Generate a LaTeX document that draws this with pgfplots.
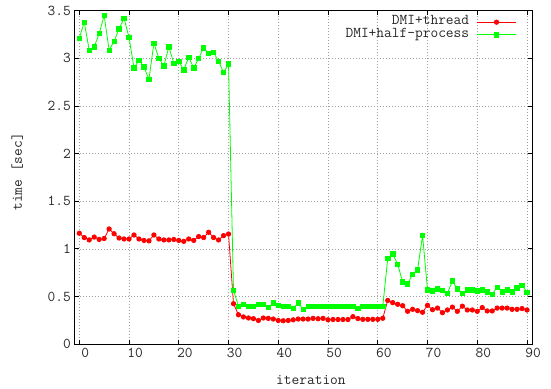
\documentclass[border=0pt]{standalone}
\usepackage{fontspec}
\usepackage{pgfplots}
\pgfplotsset{compat=1.18}
\newcommand\gfont{\fontsize{15}{17}\selectfont\ttfamily}
\definecolor{gred}{RGB}{255,0,0}
\definecolor{ggreen}{RGB}{0,255,0}
\begin{document}
\begin{tikzpicture}
\useasboundingbox (0,0) rectangle (551pt,388pt);
\begin{axis}[
  at={(74.3pt,43.7pt)}, anchor=south west,
  scale only axis, width=457.7pt, height=333.6pt,
  xmin=-1, xmax=91, ymin=0, ymax=3.5,
  xtick={0,10,...,90}, ytick={0,0.5,...,3.5},
  /pgf/number format/assume math mode=true,
  tick label style={font=\gfont, text=black!85},
  xticklabel style={xshift=6pt},
  grid=major,
  major grid style={draw=gray!75, dash pattern=on 1pt off 2pt, line width=0.7pt},
  axis line style={line width=1pt},
  major tick style={black, line width=1pt},
  major tick length=4.5pt,
  xlabel={iteration}, ylabel={time [sec]},
  label style={font=\gfont, text=black!85},
  xlabel style={at={(axis description cs:0.517,-0.107)}, anchor=center},
  ylabel style={at={(axis description cs:-0.1245,0.517)}, anchor=center},
  legend cell align=right, legend plot pos=right,
  legend style={draw=none, fill=none, at={(1,1)}, anchor=north east,
    xshift=-15pt, yshift=-5.5pt, inner sep=0pt, row sep=1.2pt, column sep=6pt,
    nodes={inner sep=1pt, text height=7.5pt, text depth=2pt, font=\gfont, text=black!85}},
  legend image code/.code={\draw[mark repeat=2,mark phase=2] plot coordinates {(0cm,0cm) (0.7cm,0cm) (1.4cm,0cm)};},
]
\addplot[gred, line width=0.8pt, mark=*, mark size=2.2pt, mark options={fill=gred, draw=gred}] table {
x y
0 1.165
1 1.12
2 1.095
3 1.125
4 1.10
5 1.11
6 1.21
7 1.16
8 1.115
9 1.105
10 1.105
11 1.147
12 1.105
13 1.09
14 1.085
15 1.147
16 1.105
17 1.095
18 1.095
19 1.10
20 1.09
21 1.08
22 1.105
23 1.09
24 1.13
25 1.12
26 1.175
27 1.12
28 1.095
29 1.14
30 1.157
31 0.426
32 0.31
33 0.287
34 0.276
35 0.269
36 0.25
37 0.276
38 0.272
39 0.265
40 0.25
41 0.247
42 0.25
43 0.257
44 0.265
45 0.265
46 0.265
47 0.272
48 0.268
49 0.272
50 0.257
51 0.26
52 0.26
53 0.26
54 0.26
55 0.29
56 0.27
57 0.262
58 0.262
59 0.262
60 0.262
61 0.273
62 0.46
63 0.437
64 0.42
65 0.405
66 0.346
67 0.367
68 0.353
69 0.336
70 0.409
71 0.363
72 0.38
73 0.332
74 0.36
75 0.39
76 0.346
77 0.40
78 0.36
79 0.36
80 0.346
81 0.385
82 0.35
83 0.35
84 0.38
85 0.38
86 0.38
87 0.367
88 0.367
89 0.375
90 0.36
};
\addlegendentry{DMI+thread}
\addplot[ggreen, line width=0.8pt, mark=square*, mark size=2.2pt, mark options={fill=ggreen, draw=ggreen}] table {
x y
0 3.21
1 3.38
2 3.085
3 3.12
4 3.26
5 3.45
6 3.085
7 3.18
8 3.31
9 3.42
10 3.22
11 2.90
12 2.98
13 2.91
14 2.78
15 3.16
16 3.00
17 2.92
18 3.12
19 2.95
20 2.97
21 2.88
22 3.01
23 2.90
24 3.00
25 3.11
26 3.05
27 3.06
28 2.97
29 2.85
30 2.94
31 0.567
32 0.40
33 0.42
34 0.40
35 0.40
36 0.42
37 0.42
38 0.39
39 0.433
40 0.41
41 0.40
42 0.40
43 0.378
44 0.433
45 0.367
46 0.40
47 0.395
48 0.395
49 0.395
50 0.395
51 0.40
52 0.395
53 0.395
54 0.395
55 0.40
56 0.378
57 0.395
58 0.395
59 0.395
60 0.395
61 0.395
62 0.90
63 0.947
64 0.84
65 0.654
66 0.633
67 0.735
68 0.78
69 1.144
70 0.57
71 0.56
72 0.58
73 0.567
74 0.535
75 0.664
76 0.58
77 0.535
78 0.57
79 0.57
80 0.56
81 0.57
82 0.55
83 0.525
84 0.60
85 0.55
86 0.57
87 0.55
88 0.59
89 0.62
90 0.546
};
\addlegendentry{DMI+half-process}
\end{axis}
\end{tikzpicture}
\end{document}
